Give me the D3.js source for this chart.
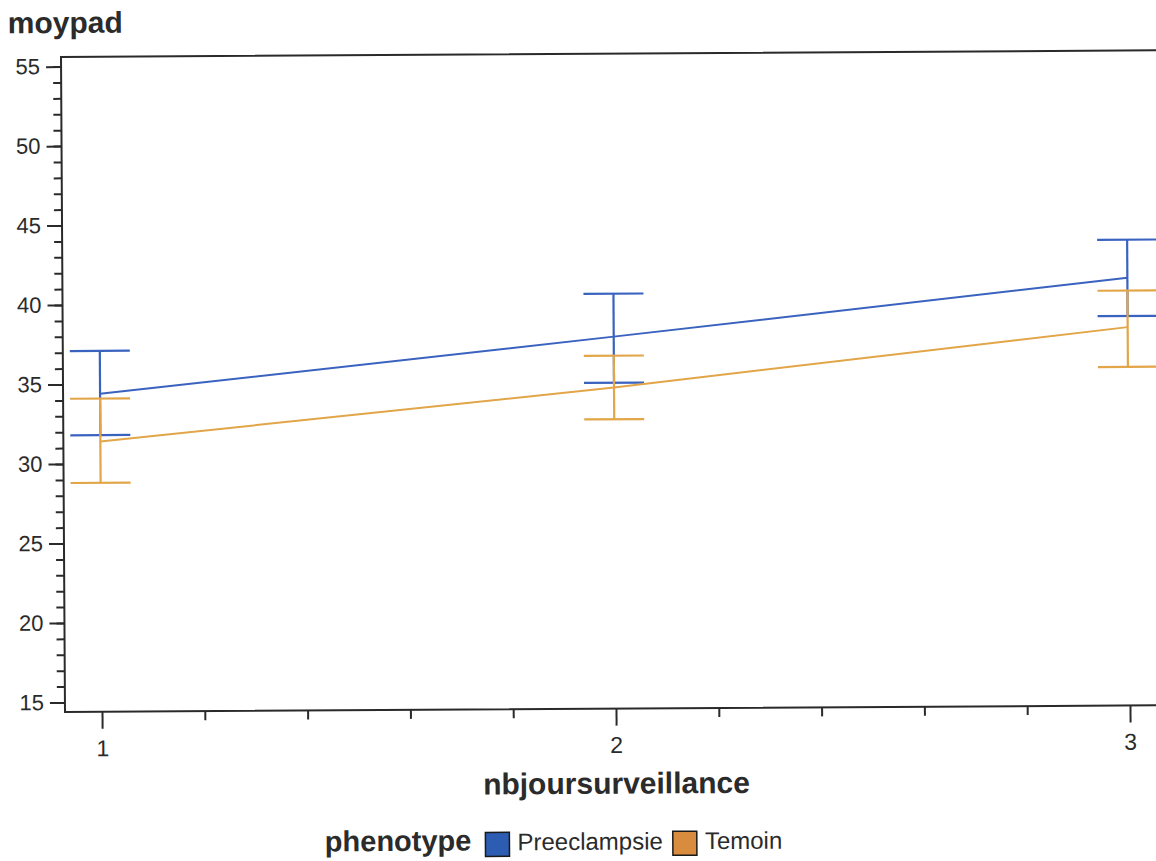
<!DOCTYPE html>
<html>
<head>
<meta charset="utf-8">
<script src="https://cdn.jsdelivr.net/npm/d3@7"></script>
<style>
  body { margin: 0; background: #fff; }
  text { font-family: "Liberation Sans", Arial, sans-serif; fill: #2b2b2b; }
</style>
</head>
<body>
<svg id="chart" width="1156" height="861"></svg>
<script>
// data
var days = [1, 2, 3];
var groups = ["Preeclampsie", "Temoin"];
var colors = ["#3a62bf", "#e2a548"];
var swatchColors = ["#2c5db2", "#d98b3e"];

var preMean = [34.4, 37.8, 41.3];
var preLow = [31.8, 34.9, 38.9];
var preHigh = [37.1, 40.5, 43.7];

var temMean = [31.4, 34.6, 38.2];
var temLow = [28.8, 32.6, 35.7];
var temHigh = [34.1, 36.6, 40.5];

var xTicks = [1, 2, 3];
var yTicks = [15, 20, 25, 30, 35, 40, 45, 50, 55];

var series = [
  { name: groups[0], color: colors[0], mean: preMean, low: preLow, high: preHigh },
  { name: groups[1], color: colors[1], mean: temMean, low: temLow, high: temHigh }
];

var svg = d3.select("#chart");
// the scanned chart is a little tilted
var g = svg.append("g").attr("transform", "rotate(-0.35, 63, 385)");

var x = d3.scaleLinear().domain([0.928, 3.072]).range([63, 1165]);
var y = d3.scaleLinear().domain([14.4, 55.6]).range([712, 57]);

// frame
g.append("rect")
  .attr("x", x.range()[0]).attr("y", y.range()[1])
  .attr("width", x.range()[1] - x.range()[0])
  .attr("height", y.range()[0] - y.range()[1])
  .attr("fill", "none").attr("stroke", "#2a2a2a").attr("stroke-width", 2);

// y axis: minor ticks then major ones
g.append("g")
  .attr("transform", "translate(" + x.range()[0] + ",0)")
  .call(d3.axisLeft(y).tickValues(d3.range(15, 56, 1)).tickSize(8).tickFormat(""))
  .call(s => s.select(".domain").remove())
  .selectAll("line").attr("stroke", "#2a2a2a").attr("stroke-width", 2);

g.append("g")
  .attr("transform", "translate(" + x.range()[0] + ",0)")
  .call(d3.axisLeft(y).tickValues(yTicks).tickSize(15).tickPadding(6))
  .call(s => s.select(".domain").remove())
  .call(s => s.selectAll("line").attr("stroke", "#2a2a2a").attr("stroke-width", 2))
  .call(s => s.selectAll("text").attr("font-size", 22).attr("fill", "#2b2b2b")
    .attr("font-family", "Liberation Sans, Arial, sans-serif"));

// x axis
var minorX = d3.range(1, 3.01, 0.2).filter(v => Math.abs(v - Math.round(v)) > 0.01);
g.append("g")
  .attr("transform", "translate(0," + y.range()[0] + ")")
  .call(d3.axisBottom(x).tickValues(minorX).tickSize(9).tickFormat(""))
  .call(s => s.select(".domain").remove())
  .selectAll("line").attr("stroke", "#2a2a2a").attr("stroke-width", 2);

g.append("g")
  .attr("transform", "translate(0," + y.range()[0] + ")")
  .call(d3.axisBottom(x).tickValues(xTicks).tickSize(17).tickPadding(11).tickFormat(d3.format("d")))
  .call(s => s.select(".domain").remove())
  .call(s => s.selectAll("line").attr("stroke", "#2a2a2a").attr("stroke-width", 2))
  .call(s => s.selectAll("text").attr("font-size", 23).attr("fill", "#2b2b2b")
    .attr("font-family", "Liberation Sans, Arial, sans-serif"));

// error bars and mean lines
var capHalf = 30;
var line = d3.line().x(d => x(d.day)).y(d => y(d.v));

series.forEach(function(s) {
  var pts = days.map((d, i) => ({ day: d, v: s.mean[i], lo: s.low[i], hi: s.high[i] }));
  var eb = g.append("g").attr("stroke", s.color).attr("stroke-width", 2.2).attr("fill", "none");
  eb.selectAll(".bar").data(pts).enter().append("line")
    .attr("x1", d => x(d.day)).attr("x2", d => x(d.day))
    .attr("y1", d => y(d.lo)).attr("y2", d => y(d.hi));
  eb.selectAll(".capHi").data(pts).enter().append("line")
    .attr("x1", d => x(d.day) - capHalf).attr("x2", d => x(d.day) + capHalf)
    .attr("y1", d => y(d.hi)).attr("y2", d => y(d.hi));
  eb.selectAll(".capLo").data(pts).enter().append("line")
    .attr("x1", d => x(d.day) - capHalf).attr("x2", d => x(d.day) + capHalf)
    .attr("y1", d => y(d.lo)).attr("y2", d => y(d.lo));
  g.append("path").datum(pts)
    .attr("d", line)
    .attr("fill", "none").attr("stroke", s.color).attr("stroke-width", 2);
});

// titles
g.append("text").attr("x", 10).attr("y", 33)
  .attr("font-size", 30).attr("font-weight", "bold").text("moypad");

g.append("text").attr("x", x(2)).attr("y", 797).attr("text-anchor", "middle")
  .attr("font-size", 30).attr("font-weight", "bold").text("nbjoursurveillance");

// legend
var lg = g.append("g");
var cx = 322, base = 853;
var t = lg.append("text").attr("x", cx).attr("y", base)
  .attr("font-size", 29).attr("font-weight", "bold").text("phenotype");
cx += t.node().getComputedTextLength() + 14;
groups.forEach(function(name, i) {
  lg.append("rect").attr("x", cx).attr("y", 835).attr("width", 24).attr("height", 24)
    .attr("fill", swatchColors[i]).attr("stroke", "#1a1a1a").attr("stroke-width", 1.5);
  cx += 32;
  var lt = lg.append("text").attr("x", cx).attr("y", base).attr("font-size", 24).text(name);
  cx += lt.node().getComputedTextLength() + 10;
});
</script>
</body>
</html>
